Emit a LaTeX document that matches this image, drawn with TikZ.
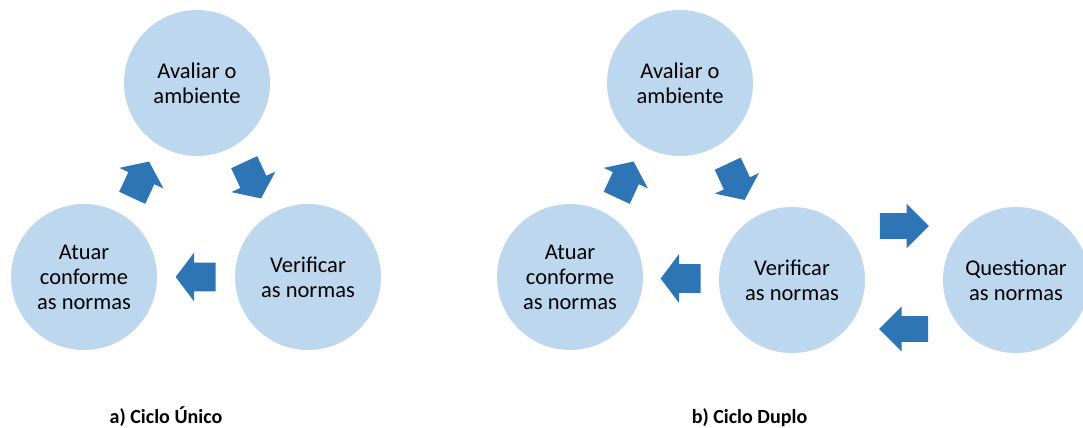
\documentclass[tikz,border=0pt]{standalone}
\usepackage{fontspec}
\setmainfont{Carlito}
\usetikzlibrary{shapes.arrows,calc}
\definecolor{circfill}{HTML}{BDD7EE}
\definecolor{arrfill}{HTML}{2E75B6}

\begin{document}
\begin{tikzpicture}[
        etapa/.style={circle, fill=circfill, minimum size=2.92cm, inner sep=0pt, align=center,
            font=\fontsize{12.8}{14.2}\selectfont},
        seta/.style={single arrow, fill=arrfill, inner xsep=0pt, inner ysep=0.28cm,
            minimum height=0.8cm, single arrow head extend=0.2cm,
            single arrow tip angle=106, single arrow head indent=0pt, anchor=tail},
        setalonga/.style={seta, inner ysep=0.25cm, minimum height=0.98cm,
            single arrow head extend=0.19cm, single arrow tip angle=90},
        legenda/.style={font=\fontsize{11.4}{13}\selectfont\bfseries, anchor=base}
    ]
        \useasboundingbox (0,0) rectangle (21.66,8.54);

        % a) single loop
        \begin{scope}
            \node[etapa] (avalA) at (3.94,6.88) {Avaliar o\\ambiente};
            \node[etapa] (atuarA) at (1.68,3.00) {Atuar\\conforme\\as normas};
            \node[etapa] (verifA) at (6.16,3.00) {Verificar\\as normas};

            % arrows between the steps (tail half a length before the midpoint)
            \node[seta, rotate=65] (setaA1) at ($($(atuarA)!0.5!(avalA)$)+(245:0.4)$) {};
            \node[seta, rotate=-65] (setaA2) at ($($(avalA)!0.5!(verifA)$)+(115:0.4)$) {};
            \node[seta, rotate=180] (setaA3) at ($($(verifA)!0.5!(atuarA)$)+(0.4,0)$) {};

            \node[legenda] (legA) at (3.32,0.08) {a) Ciclo Único};
        \end{scope}

        % b) double loop
        \begin{scope}
            \node[etapa] (avalB) at (13.60,6.88) {Avaliar o\\ambiente};
            \node[etapa] (atuarB) at (11.40,3.00) {Atuar\\conforme\\as normas};
            \node[etapa] (verifB) at (15.84,2.94) {Verificar\\as normas};
            \node[etapa] (questB) at (20.32,2.94) {Questionar\\as normas};

            % arrows between the steps
            \node[seta, rotate=65] (setaB1) at ($($(atuarB)!0.5!(avalB)$)+(245:0.4)$) {};
            \node[seta, rotate=-65] (setaB2) at ($($(avalB)!0.5!(verifB)$)+(115:0.4)$) {};
            \node[seta, rotate=180] (setaB3) at ($($(verifB)!0.5!(atuarB)$)+(0.4,0)$) {};
            \node[setalonga] (setaB4) at ($($(verifB)!0.5!(questB)$)+(-0.49,1.08)$) {};
            \node[setalonga, rotate=180] (setaB5) at ($($(verifB)!0.5!(questB)$)+(0.49,-0.98)$) {};

            \node[legenda] (legB) at (14.99,0.08) {b) Ciclo Duplo};
        \end{scope}
    \end{tikzpicture}
\end{document}
